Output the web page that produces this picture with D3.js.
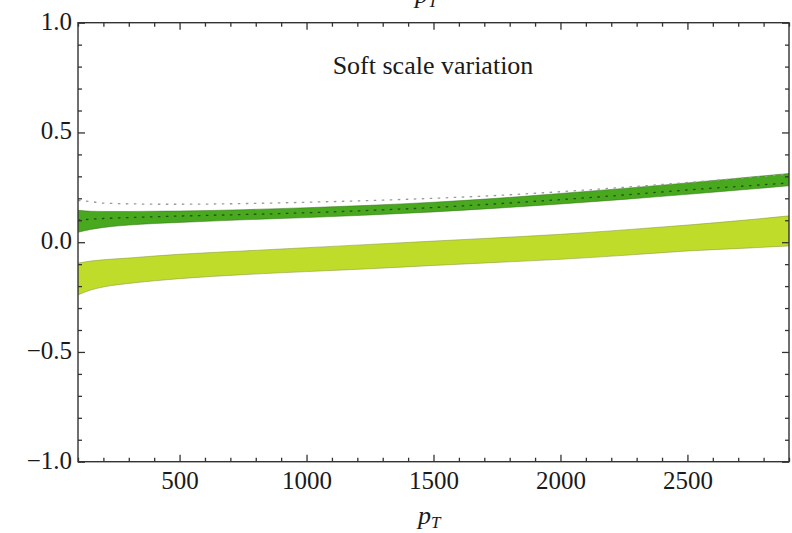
<!DOCTYPE html>
<html>
<head>
<meta charset="utf-8">
<script src="https://cdn.jsdelivr.net/npm/d3@7"></script>
<style>
  html, body { margin: 0; padding: 0; background: #fff; }
  svg { display: block; }
  text { font-family: "Liberation Serif", "Times New Roman", serif; fill: #1a1a1a; }
</style>
</head>
<body>
<svg id="chart" width="792" height="533"></svg>
<script>
// transverse momentum grid
const pT = [100, 150, 200, 300, 400, 500, 750, 1000, 1250, 1500, 1750, 2000, 2250, 2500, 2750, 2900];

// dark band (upper/lower edges) and its central dotted curve
const darkUpper = [0.145, 0.141, 0.140, 0.140, 0.141, 0.142, 0.148, 0.157, 0.168, 0.182, 0.200, 0.222, 0.245, 0.270, 0.297, 0.313];
const darkLower = [0.045, 0.058, 0.067, 0.078, 0.085, 0.090, 0.102, 0.112, 0.124, 0.138, 0.155, 0.174, 0.195, 0.218, 0.242, 0.257];
const darkCentral = [0.100, 0.105, 0.108, 0.112, 0.116, 0.119, 0.126, 0.134, 0.145, 0.158, 0.175, 0.194, 0.215, 0.238, 0.258, 0.270];

// gray dotted reference curve
const grayRef = [0.190, 0.185, 0.178, 0.175, 0.173, 0.173, 0.176, 0.182, 0.190, 0.200, 0.213, 0.230, 0.250, 0.272, 0.295, 0.310];

// light band (upper/lower edges)
const lightUpper = [-0.095, -0.086, -0.080, -0.072, -0.063, -0.055, -0.040, -0.025, -0.010, 0.005, 0.020, 0.036, 0.056, 0.078, 0.103, 0.120];
const lightLower = [-0.240, -0.218, -0.204, -0.188, -0.176, -0.166, -0.148, -0.134, -0.121, -0.106, -0.092, -0.078, -0.060, -0.040, -0.026, -0.017];

// axis ticks
const xMajor = [500, 1000, 1500, 2000, 2500];
const xMinor = d3.range(100, 2901, 100).filter(v => !xMajor.includes(v));
const yMajor = [-1.0, -0.5, 0.0, 0.5, 1.0];
const yMinor = d3.range(-10, 11).map(v => v / 10).filter(v => !yMajor.some(m => Math.abs(m - v) < 1e-9));

const title = "Soft scale variation";

const svg = d3.select("#chart");
const padL = 78, padR = 789, padT = 22.7, padB = 461.7;

const x = d3.scaleLinear().domain([100, 2900]).range([padL, padR]);
const y = d3.scaleLinear().domain([-1, 1]).range([padB, padT]);

const rows = pT.map((p, i) => ({
  p, du: darkUpper[i], dl: darkLower[i], dc: darkCentral[i],
  g: grayRef[i], lu: lightUpper[i], ll: lightLower[i]
}));

const curve = d3.curveMonotoneX;
const area = (lo, hi) => d3.area().curve(curve).x(d => x(d.p)).y0(d => y(d[lo])).y1(d => y(d[hi]));
const line = key => d3.line().curve(curve).x(d => x(d.p)).y(d => y(d[key]));

svg.append("clipPath").attr("id", "clip")
  .append("rect").attr("x", padL).attr("y", padT).attr("width", padR - padL).attr("height", padB - padT);
const plot = svg.append("g").attr("clip-path", "url(#clip)");

// light band
plot.append("path").datum(rows).attr("d", area("ll", "lu")).attr("fill", "#bfdc2b");
["lu", "ll"].forEach(k => plot.append("path").datum(rows).attr("d", line(k))
  .attr("fill", "none").attr("stroke", "#7f8f3a").attr("stroke-width", 0.7).attr("stroke-opacity", 0.7));

// dark band
plot.append("path").datum(rows).attr("d", area("dl", "du")).attr("fill", "#48a81e");
["du", "dl"].forEach(k => plot.append("path").datum(rows).attr("d", line(k))
  .attr("fill", "none").attr("stroke", "#2f6e14").attr("stroke-width", 0.7).attr("stroke-opacity", 0.7));

// dotted curves
plot.append("path").datum(rows).attr("d", line("g"))
  .attr("fill", "none").attr("stroke", "#9a9a9a").attr("stroke-width", 1.3)
  .attr("stroke-dasharray", "2.5,5.5");
plot.append("path").datum(rows).attr("d", line("dc"))
  .attr("fill", "none").attr("stroke", "#24500f").attr("stroke-width", 1.3)
  .attr("stroke-dasharray", "2.5,5.5");

// frame
const tickColor = "#333";
svg.append("rect").attr("x", padL).attr("y", padT).attr("width", padR - padL).attr("height", padB - padT)
  .attr("fill", "none").attr("stroke", tickColor).attr("stroke-width", 1.4);

const fmtY = v => (v < 0 ? "\u2212" : "") + Math.abs(v).toFixed(1);

function styleAxis(g) {
  g.select(".domain").remove();
  g.selectAll("line").attr("stroke", tickColor).attr("stroke-width", 1.3);
  g.selectAll("text").style("font-family", '"Liberation Serif", "Times New Roman", serif')
    .style("font-size", "25px").attr("fill", "#1a1a1a");
}

// bottom axis: labelled majors + minors, ticks pointing inward
svg.append("g").attr("transform", `translate(0,${padB})`)
  .call(d3.axisBottom(x).tickValues(xMajor).tickSize(-7).tickPadding(10).tickFormat(d3.format("d")))
  .call(styleAxis);
svg.append("g").attr("transform", `translate(0,${padB})`)
  .call(d3.axisBottom(x).tickValues(xMinor).tickSize(-4).tickFormat(""))
  .call(styleAxis);
// top axis mirrors
svg.append("g").attr("transform", `translate(0,${padT})`)
  .call(d3.axisTop(x).tickValues(xMajor).tickSize(-7).tickFormat(""))
  .call(styleAxis);
svg.append("g").attr("transform", `translate(0,${padT})`)
  .call(d3.axisTop(x).tickValues(xMinor).tickSize(-4).tickFormat(""))
  .call(styleAxis);

// left axis
svg.append("g").attr("transform", `translate(${padL},0)`)
  .call(d3.axisLeft(y).tickValues(yMajor).tickSize(-7).tickPadding(6).tickFormat(fmtY))
  .call(styleAxis)
  .call(g => g.selectAll("text").attr("dy", "0.26em"));
svg.append("g").attr("transform", `translate(${padL},0)`)
  .call(d3.axisLeft(y).tickValues(yMinor).tickSize(-4).tickFormat(""))
  .call(styleAxis);
// right axis mirrors
svg.append("g").attr("transform", `translate(${padR},0)`)
  .call(d3.axisRight(y).tickValues(yMajor).tickSize(-7).tickFormat(""))
  .call(styleAxis);
svg.append("g").attr("transform", `translate(${padR},0)`)
  .call(d3.axisRight(y).tickValues(yMinor).tickSize(-4).tickFormat(""))
  .call(styleAxis);

// panel title
svg.append("text").attr("x", 433).attr("y", 74).attr("text-anchor", "middle")
  .style("font-size", "26px").text(title);

// p_T axis labels (bottom of this panel; the one above belongs to the panel on top)
function ptLabel(x0, base) {
  const t = svg.append("text").attr("x", x0).attr("y", base).style("font-style", "italic");
  t.append("tspan").style("font-size", "26px").text("p");
  t.append("tspan").attr("dy", 4).style("font-size", "17px").text("T");
}
ptLabel(418, 524);
ptLabel(415, 2.5);
</script>
</body>
</html>
